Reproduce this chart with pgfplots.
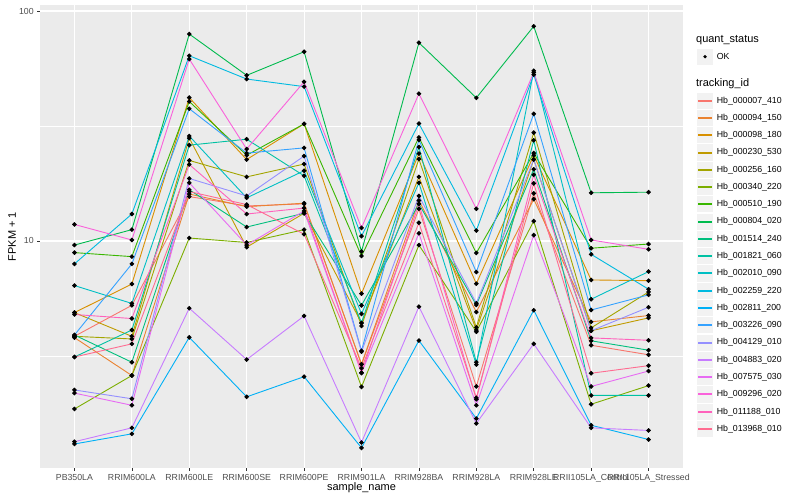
\documentclass[border=0pt]{standalone}
\usepackage{pgfplots}
\pgfplotsset{compat=1.18}
\usepackage{fontspec}
\setmainfont{Liberation Sans}
% ggplot hue palette, 20 levels
\definecolor{c1}{HTML}{F8766D}\definecolor{c2}{HTML}{EA8331}
\definecolor{c3}{HTML}{D89000}\definecolor{c4}{HTML}{C09B00}
\definecolor{c5}{HTML}{A3A500}\definecolor{c6}{HTML}{7CAE00}
\definecolor{c7}{HTML}{39B600}\definecolor{c8}{HTML}{00BB4E}
\definecolor{c9}{HTML}{00BF7D}\definecolor{c10}{HTML}{00C1A3}
\definecolor{c11}{HTML}{00BFC4}\definecolor{c12}{HTML}{00BAE0}
\definecolor{c13}{HTML}{00B0F6}\definecolor{c14}{HTML}{35A2FF}
\definecolor{c15}{HTML}{9590FF}\definecolor{c16}{HTML}{C77CFF}
\definecolor{c17}{HTML}{E76BF3}\definecolor{c18}{HTML}{FA62DB}
\definecolor{c19}{HTML}{FF62BC}\definecolor{c20}{HTML}{FF6C91}
\definecolor{panel}{HTML}{EBEBEB}
\definecolor{keybg}{HTML}{F2F2F2}
\definecolor{ticktxt}{HTML}{4D4D4D}
\definecolor{tickln}{HTML}{333333}
\begin{document}
\begin{tikzpicture}
\path[use as bounding box] (0bp,0bp) rectangle (800bp,500bp);
\begin{axis}[
  at={(40bp,32bp)}, anchor=south west,
  scale only axis, width=643bp, height=463bp,
  ymode=log, ymin=1.03, ymax=106.2,
  xmin=-0.6, xmax=10.6,
  axis background/.style={fill=panel},
  axis line style={draw=none},
  xtick={0,...,10},
  xticklabels={PB350LA,RRIM600LA,RRIM600LE,RRIM600SE,RRIM600PE,RRIM901LA,RRIM928BA,RRIM928LA,RRIM928LE,RRII105LA\_Control,RRII105LA\_Stressed},
  ytick={10,100}, yticklabels={10,100},
  minor ytick={3.1623,31.623},
  xtick pos=bottom, ytick pos=left,
  grid=both,
  major grid style={white, line width=1.07bp},
  minor grid style={white, line width=0.53bp},
  tick align=outside, major tick length=2.75bp, minor tick length=0pt,
  tick style={tickln, line width=0.53bp},
  tick label style={font=\fontsize{8.8}{10}\selectfont, text=ticktxt},
  every axis plot/.append style={line width=0.9bp, mark=*, mark size=1.8bp,
    mark options={black, fill=black, solid}},
]
\addplot[c1] coordinates {(0,3.85)(1,5.25)(2,15.6)(3,14.2)(4,14.5)(5,2.91)(6,13.8)(7,2.33)(8,16.1)(9,3.52)(10,3.2)};
\addplot[c2] coordinates {(0,3.8)(1,2.6)(2,16.0)(3,14.1)(4,14.6)(5,2.91)(6,15.0)(7,4.91)(8,15.2)(9,4.45)(10,4.74)};
\addplot[c3] coordinates {(0,4.88)(1,6.5)(2,42)(3,22.6)(4,32.3)(5,5.9)(6,24.0)(7,6.52)(8,23.6)(9,6.77)(10,6.72)};
\addplot[c4] coordinates {(0,4.88)(1,3.85)(2,28)(3,9.4)(4,13.2)(5,4.4)(6,19.0)(7,4.1)(8,22.6)(9,4.07)(10,4.63)};
\addplot[c5] coordinates {(0,3.85)(1,3.75)(2,22.4)(3,19.0)(4,21.6)(5,4.27)(6,22.7)(7,4.21)(8,29.6)(9,4.19)(10,6.0)};
\addplot[c6] coordinates {(0,1.86)(1,2.6)(2,10.3)(3,9.85)(4,11.2)(5,2.32)(6,9.6)(7,4.03)(8,12.2)(9,1.95)(10,2.35)};
\addplot[c7] coordinates {(0,8.9)(1,8.55)(2,40.4)(3,23.6)(4,32.3)(5,8.6)(6,28.2)(7,8.87)(8,24.1)(9,9.3)(10,9.7)};
\addplot[c8] coordinates {(0,9.6)(1,11.2)(2,79.4)(3,52.5)(4,66.5)(5,9.0)(6,72.8)(7,41.9)(8,85.8)(9,16.2)(10,16.3)};
\addplot[c9] coordinates {(0,3.9)(1,2.97)(2,16.7)(3,11.5)(4,13.2)(5,5.25)(6,14.5)(7,5.27)(8,20.5)(9,3.68)(10,3.35)};
\addplot[c10] coordinates {(0,3.13)(1,4.1)(2,26.1)(3,27.7)(4,19.2)(5,4.4)(6,25.6)(7,2.97)(8,27.4)(9,2.13)(10,2.13)};
\addplot[c11] coordinates {(0,6.4)(1,5.35)(2,28.6)(3,15.4)(4,20.2)(5,4.82)(6,17.9)(7,2.9)(8,55.0)(9,5.58)(10,7.36)};
\addplot[c12] coordinates {(0,7.95)(1,13.1)(2,63.9)(3,50.6)(4,46.9)(5,10.5)(6,32.4)(7,11.1)(8,52.9)(9,8.75)(10,6.17)};
\addplot[c13] coordinates {(0,1.31)(1,1.45)(2,3.81)(3,2.1)(4,2.57)(5,1.26)(6,3.69)(7,1.69)(8,5.0)(9,1.58)(10,1.37)};
\addplot[c14] coordinates {(0,3.9)(1,7.95)(2,37.6)(3,24.1)(4,25.4)(5,3.33)(6,27.5)(7,7.33)(8,35.7)(9,5.01)(10,5.83)};
\addplot[c15] coordinates {(0,2.25)(1,2.06)(2,18.7)(3,15.7)(4,23.4)(5,3.3)(6,15.7)(7,5.36)(8,22.6)(9,4.07)(10,5.15)};
\addplot[c16] coordinates {(0,1.34)(1,1.54)(2,5.1)(3,3.05)(4,4.72)(5,1.33)(6,5.18)(7,1.61)(8,3.57)(9,1.54)(10,1.50)};
\addplot[c17] coordinates {(0,2.18)(1,1.93)(2,17.9)(3,9.6)(4,13.5)(5,2.67)(6,10.8)(7,1.93)(8,10.6)(9,2.33)(10,2.72)};
\addplot[c18] coordinates {(0,11.8)(1,10.1)(2,61.8)(3,25.1)(4,49.2)(5,11.4)(6,43.7)(7,13.8)(8,54.1)(9,10.1)(10,9.2)};
\addplot[c19] coordinates {(0,4.79)(1,4.6)(2,21.5)(3,13.1)(4,13.9)(5,2.67)(6,14.5)(7,2.05)(8,19.4)(9,3.79)(10,3.70)};
\addplot[c20] coordinates {(0,3.13)(1,3.57)(2,16.4)(3,14.4)(4,10.7)(5,2.8)(6,12.0)(7,2.08)(8,17.8)(9,2.66)(10,2.87)};
\end{axis}
\begin{scope}[x=1bp,y=1bp]
% axis titles
\node[rotate=90, font=\fontsize{11}{13}\selectfont] at (12,263.5) {FPKM + 1};
\node[font=\fontsize{11}{13}\selectfont] at (361.5,12) {sample\_name};
% legends
\node[anchor=west, inner sep=0, font=\fontsize{11}{13}\selectfont] at (696,460) {quant\_status};
\fill[keybg] (696.7,435.2) rectangle (713.3,451.4);
\fill[black] (705,443.3) circle (1.8);
\node[anchor=west, inner sep=0, font=\fontsize{8.8}{10}\selectfont] at (716.7,443.3) {OK};
\node[anchor=west, inner sep=0, font=\fontsize{11}{13}\selectfont] at (696,416) {tracking\_id};
\foreach \cc/\nn [count=\k from 0] in {c1/Hb\_000007\_410,c2/Hb\_000094\_150,c3/Hb\_000098\_180,c4/Hb\_000230\_530,c5/Hb\_000256\_160,c6/Hb\_000340\_220,c7/Hb\_000510\_190,c8/Hb\_000804\_020,c9/Hb\_001514\_240,c10/Hb\_001821\_060,c11/Hb\_002010\_090,c12/Hb\_002259\_220,c13/Hb\_002811\_200,c14/Hb\_003226\_090,c15/Hb\_004129\_010,c16/Hb\_004883\_020,c17/Hb\_007575\_030,c18/Hb\_009296\_020,c19/Hb\_011188\_010,c20/Hb\_013968\_010}{
  \pgfmathsetmacro\yy{399.3-17.28*\k}
  \pgfmathsetmacro\ky{round(\yy)}
  \fill[keybg] (696.7,\yy-8.1) rectangle (713.3,\yy+8.1);
  \fill[\cc] (698.4,\ky-0.6) rectangle (711.6,\ky+0.6);
  \node[anchor=west, inner sep=0, font=\fontsize{8.8}{10}\selectfont] at (716.7,\yy) {\nn};
}
\end{scope}
\end{tikzpicture}
\end{document}
